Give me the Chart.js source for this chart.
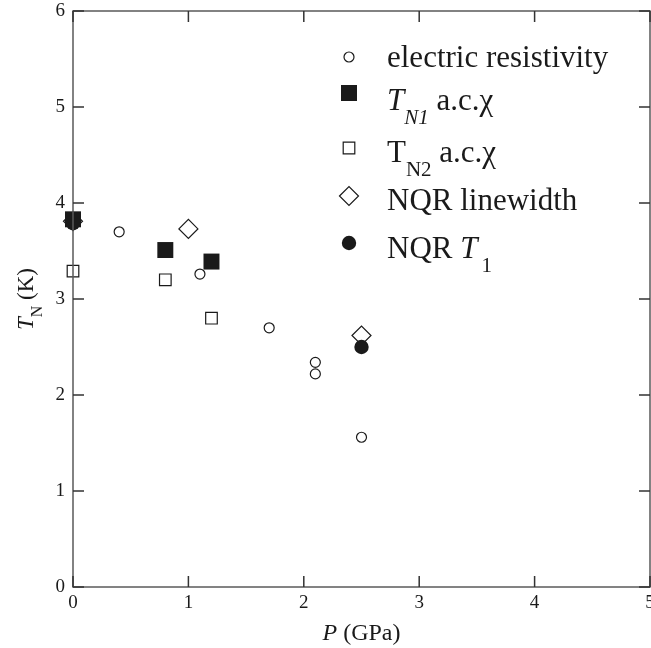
<!DOCTYPE html>
<html>
<head>
<meta charset="utf-8">
<script src="https://cdn.jsdelivr.net/npm/chart.js@4.4.1/dist/chart.umd.min.js"></script>
<style>
  html, body { margin: 0; padding: 0; background: #fff; }
  #wrap { width: 651px; height: 648px; position: relative; }
</style>
</head>
<body>
<div id="wrap"><canvas id="tnChart"></canvas></div>
<script>
// pressure (GPa) vs Neel temperature (K)
const resistivityP = [0, 0.4, 1.1, 1.7, 2.1, 2.1, 2.5]
const resistivityT = [3.78, 3.70, 3.26, 2.70, 2.34, 2.22, 1.56]
const tn1P = [0, 0.8, 1.2]
const tn1T = [3.83, 3.51, 3.39]
const tn2P = [0, 0.8, 1.2]
const tn2T = [3.29, 3.20, 2.80]
const linewidthP = [0, 1.0, 2.5]
const linewidthT = [3.81, 3.73, 2.62]
const t1P = [0, 2.5]
const t1T = [3.79, 2.50]
const xTicks = [0, 1, 2, 3, 4, 5]
const yTicks = [0, 1, 2, 3, 4, 5, 6]

const ink = "#1a1a1a"
const serif = "'Liberation Serif', 'Times New Roman', serif"

function pts(xs, ys) {
  return xs.map((x, i) => ({ x: x, y: ys[i] }))
}

// legend rows: dataset index, marker y, text baseline, text runs
const legendRows = [
  { ds: 0, my: 57, base: 67, runs: [{ t: "electric resistivity" }] },
  { ds: 1, my: 93, base: 110, runs: [{ t: "T", it: true }, { t: "N1", it: true, sub: true }, { t: " a.c.χ" }] },
  { ds: 2, my: 148, base: 162, runs: [{ t: "T" }, { t: "N2", sub: true }, { t: " a.c.χ" }] },
  { ds: 3, my: 196, base: 210, runs: [{ t: "NQR linewidth" }] },
  { ds: 4, my: 243, base: 258, runs: [{ t: "NQR " }, { t: "T", it: true }, { t: "1", sub: true, dx: 4 }] },
]

function drawRuns(ctx, x, base, runs, size, subShift) {
  runs.forEach(r => {
    const fs = r.sub ? Math.round(size * 0.68) : size
    ctx.font = (r.it ? "italic " : "") + fs + "px " + serif
    x += r.dx || 0
    ctx.fillText(r.t, x, r.sub ? base + subShift : base)
    x += ctx.measureText(r.t).width
  })
  return x
}

function runsWidth(ctx, runs, size) {
  let w = 0
  runs.forEach(r => {
    const fs = r.sub ? Math.round(size * 0.68) : size
    ctx.font = (r.it ? "italic " : "") + fs + "px " + serif
    w += (r.dx || 0) + ctx.measureText(r.t).width
  })
  return w
}

const decor = {
  id: "decor",
  afterDraw(chart) {
    const { ctx, chartArea: a, scales } = chart
    ctx.save()

    // frame
    ctx.strokeStyle = "#5a5a5a"
    ctx.lineWidth = 1.5
    ctx.strokeRect(a.left, a.top, a.right - a.left, a.bottom - a.top)

    // inward ticks on all four sides
    ctx.strokeStyle = "#333"
    ctx.beginPath()
    xTicks.forEach(v => {
      const px = scales.x.getPixelForValue(v)
      ctx.moveTo(px, a.bottom); ctx.lineTo(px, a.bottom - 11)
      ctx.moveTo(px, a.top); ctx.lineTo(px, a.top + 11)
    })
    yTicks.forEach(v => {
      const py = scales.y.getPixelForValue(v)
      ctx.moveTo(a.left, py); ctx.lineTo(a.left + 11, py)
      ctx.moveTo(a.right, py); ctx.lineTo(a.right - 11, py)
    })
    ctx.stroke()

    // legend
    const drawPoint = Chart.helpers && Chart.helpers.drawPoint
    ctx.fillStyle = ink
    ctx.textBaseline = "alphabetic"
    ctx.textAlign = "left"
    legendRows.forEach(row => {
      const ds = chart.data.datasets[row.ds]
      if (drawPoint) {
        ctx.save()
        ctx.fillStyle = ds.pointBackgroundColor
        ctx.strokeStyle = ds.pointBorderColor
        ctx.lineWidth = ds.pointBorderWidth
        drawPoint(ctx, { pointStyle: ds.pointStyle, radius: ds.pointRadius, rotation: 0, borderWidth: ds.pointBorderWidth }, 349, row.my)
        ctx.restore()
      }
      ctx.fillStyle = ink
      drawRuns(ctx, 387, row.base, row.runs, 31, 14)
    })

    // x title
    const xRuns = [{ t: "P", it: true }, { t: " (GPa)" }]
    const xw = runsWidth(ctx, xRuns, 24)
    drawRuns(ctx, (a.left + a.right) / 2 - xw / 2, 640, xRuns, 24, 0)

    // y title, rotated
    const yRuns = [{ t: "T", it: true }, { t: "N", sub: true }, { t: " (K)" }]
    const yw = runsWidth(ctx, yRuns, 23)
    ctx.translate(33, (a.top + a.bottom) / 2)
    ctx.rotate(-Math.PI / 2)
    drawRuns(ctx, -yw / 2, 0, yRuns, 23, 9)

    ctx.restore()
  },
}

function setX(s) {
  s.height = 61
  s.paddingLeft = 0
  s.paddingRight = 0
}
function setY(s) {
  s.width = 73
  s.paddingTop = 0
  s.paddingBottom = 0
}

document.addEventListener("DOMContentLoaded", () => {
  const ctx = document.getElementById("tnChart")
  new Chart(ctx, {
    type: "scatter",
    data: {
      datasets: [
        {
          label: "electric resistivity",
          data: pts(resistivityP, resistivityT),
          pointStyle: "circle",
          pointRadius: 5,
          pointBackgroundColor: "#fff",
          pointBorderColor: ink,
          pointBorderWidth: 1.2,
          clip: false,
          order: 5,
        },
        {
          label: "TN1 a.c.χ",
          data: pts(tn1P, tn1T),
          pointStyle: "rect",
          pointRadius: 11.3,
          pointBackgroundColor: ink,
          pointBorderColor: ink,
          pointBorderWidth: 0,
          clip: false,
          order: 1,
        },
        {
          label: "TN2 a.c.χ",
          data: pts(tn2P, tn2T),
          pointStyle: "rect",
          pointRadius: 8.2,
          pointBackgroundColor: "#fff",
          pointBorderColor: ink,
          pointBorderWidth: 1.2,
          clip: false,
          order: 4,
        },
        {
          label: "NQR linewidth",
          data: pts(linewidthP, linewidthT),
          pointStyle: "rectRot",
          pointRadius: 9.5,
          pointBackgroundColor: "#fff",
          pointBorderColor: ink,
          pointBorderWidth: 1.2,
          clip: false,
          order: 3,
        },
        {
          label: "NQR T1",
          data: pts(t1P, t1T),
          pointStyle: "circle",
          pointRadius: 7.2,
          pointBackgroundColor: ink,
          pointBorderColor: ink,
          pointBorderWidth: 0,
          clip: false,
          order: 2,
        },
      ],
    },
    options: {
      responsive: true,
      maintainAspectRatio: false,
      animation: false,
      events: [],
      layout: { autoPadding: false, padding: { top: 11, right: 1, left: 0, bottom: 0 } },
      plugins: {
        legend: { display: false },
        tooltip: { enabled: false },
      },
      scales: {
        x: {
          type: "linear",
          min: 0,
          max: 5,
          afterBuildTicks: s => { s.ticks = xTicks.map(v => ({ value: v })) },
          afterFit: setX,
          grid: { display: false, drawTicks: false },
          border: { display: false },
          ticks: { padding: 5, color: ink, font: { family: serif, size: 19 } },
        },
        y: {
          type: "linear",
          min: 0,
          max: 6,
          afterBuildTicks: s => { s.ticks = yTicks.map(v => ({ value: v })) },
          afterFit: setY,
          grid: { display: false, drawTicks: false },
          border: { display: false },
          ticks: { padding: 8, color: ink, font: { family: serif, size: 19 } },
        },
      },
    },
    plugins: [decor],
  })
})
</script>
</body>
</html>
